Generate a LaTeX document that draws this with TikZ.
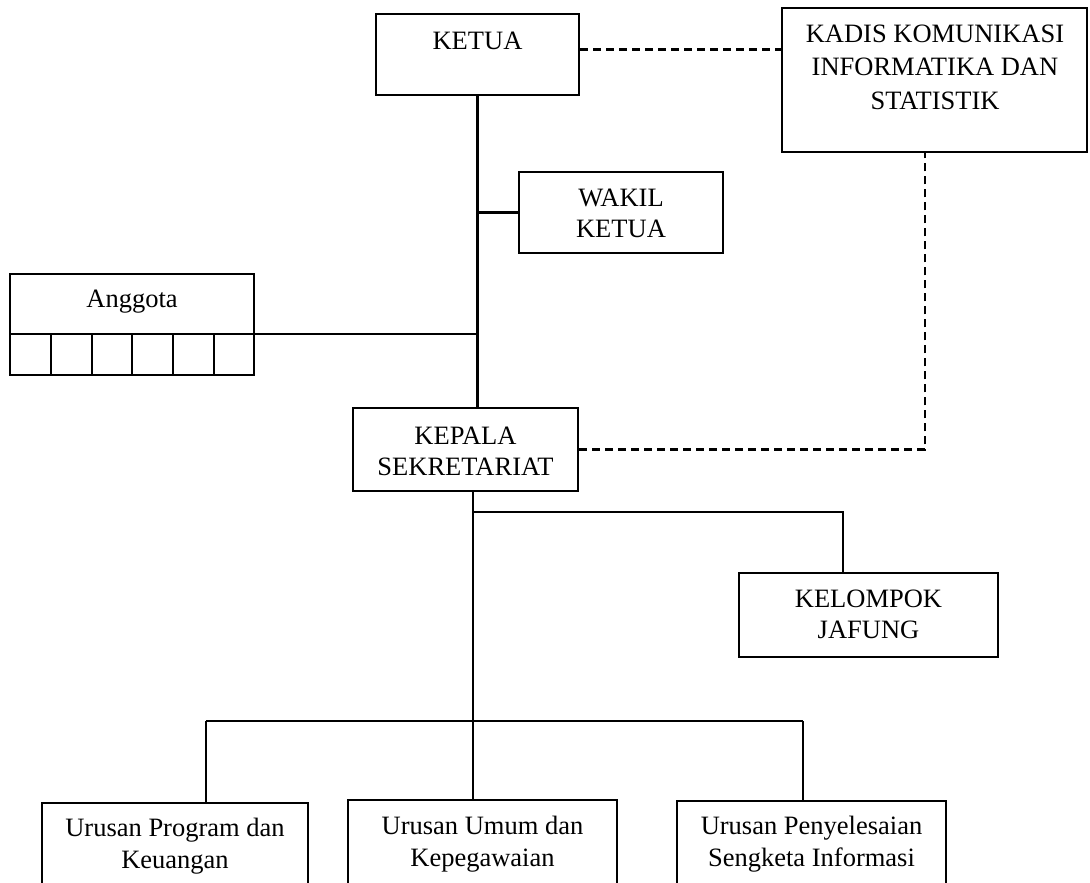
\documentclass[tikz,border=0pt]{standalone}
\usepackage{fontspec}
\setmainfont{Liberation Serif}
\usetikzlibrary{calc}
\begin{document}
\begin{tikzpicture}[x=1pt,y=-1pt,
  box/.style={draw, line width=2.2pt, inner sep=0pt},
  link/.style={line width=2.2pt},
  dlink/.style={line width=2.2pt, dash pattern=on 8pt off 5pt},
  txt/.style={inner sep=0pt, text height=0pt, text depth=0pt, anchor=south, align=center,
    font=\fontsize{26.5}{#1}\selectfont},
  txt/.default=31]
\useasboundingbox (0,0) rectangle (1090,883);
\clip (0,0) rectangle (1090,883);
\fill[white] (0,0) rectangle (1090,883);
% boxes
\node[box, minimum width=203pt, minimum height=81pt] (ketua) at (477.5,54.5) {};
\node[box, minimum width=305pt, minimum height=144pt] (kadis) at (934.5,80) {};
\node[box, minimum width=204pt, minimum height=81pt] (wakil) at (621,212.5) {};
\node[box, minimum width=244pt, minimum height=101pt] (anggota) at (132,324.5) {};
\node[box, minimum width=225pt, minimum height=83pt] (kepala) at (465.5,449.5) {};
\node[box, minimum width=259pt, minimum height=84pt] (kelompok) at (868.5,615) {};
\node[box, minimum width=266pt, minimum height=120pt] (u1) at (175,863) {};
\node[box, minimum width=269pt, minimum height=120pt] (u2) at (482.5,860) {};
\node[box, minimum width=269pt, minimum height=120pt] (u3) at (811.5,861) {};
% texts (positioned at the baseline of their last line)
\node[txt] (tketua) at (477.5,50) {KETUA};
\node[txt=33.5] (tkadis) at (935,110) {KADIS KOMUNIKASI\\INFORMATIKA DAN\\STATISTIK};
\node[txt] (twakil) at (621,238) {WAKIL\\KETUA};
\node[txt] (tanggota) at (132,308) {Anggota};
\node[txt] (tkepala) at (465.5,476) {KEPALA\\SEKRETARIAT};
\node[txt] (tkelompok) at (868.5,639) {KELOMPOK\\JAFUNG};
\node[txt=32] (tu1) at (175,869) {Urusan Program dan\\Keuangan};
\node[txt=32] (tu2) at (482.5,867) {Urusan Umum dan\\Kepegawaian};
\node[txt=32] (tu3) at (811.5,867) {Urusan Penyelesaian\\Sengketa Informasi};
% anggota cells
\coordinate (adl) at (10,334);
\coordinate (adr) at (254,334);
\draw[box] (adl) -- (adr);
\foreach \cx in {51,92,132,173,214} \draw[box] (\cx,334) -- (\cx,375);
% coordinates
\coordinate (kt) at ($(ketua.north east)!0.44!(ketua.south east)$);
\coordinate (kds) at ($(kadis.south west)!0.469!(kadis.south east)$);
\coordinate (kpb) at (473,491);
\coordinate (jb) at (473,512);
\coordinate (jr) at (843,512);
\coordinate (bl) at (206,721);
\coordinate (bm) at (473,721);
\coordinate (br) at (803,721);
% connectors
\draw[link] (ketua.south) -- (ketua.south |- kepala.north);
\draw[link] (wakil.west) -- (wakil.west -| ketua.south);
\draw[link] (adr) -- (adr -| ketua.south);
\draw[dlink] (kt) -- (kt -| kadis.west);
\draw[dlink] (kepala.east) -| (kds);
\draw[link] (kpb) -- (bm);
\draw[link] (jb) -- (jr) -- (jr |- kelompok.north);
\draw[link] (bl) -- (br);
\draw[link] (bl) -- (bl |- u1.north);
\draw[link] (bm) -- (bm |- u2.north);
\draw[link] (br) -- (br |- u3.north);
\end{tikzpicture}
\end{document}
